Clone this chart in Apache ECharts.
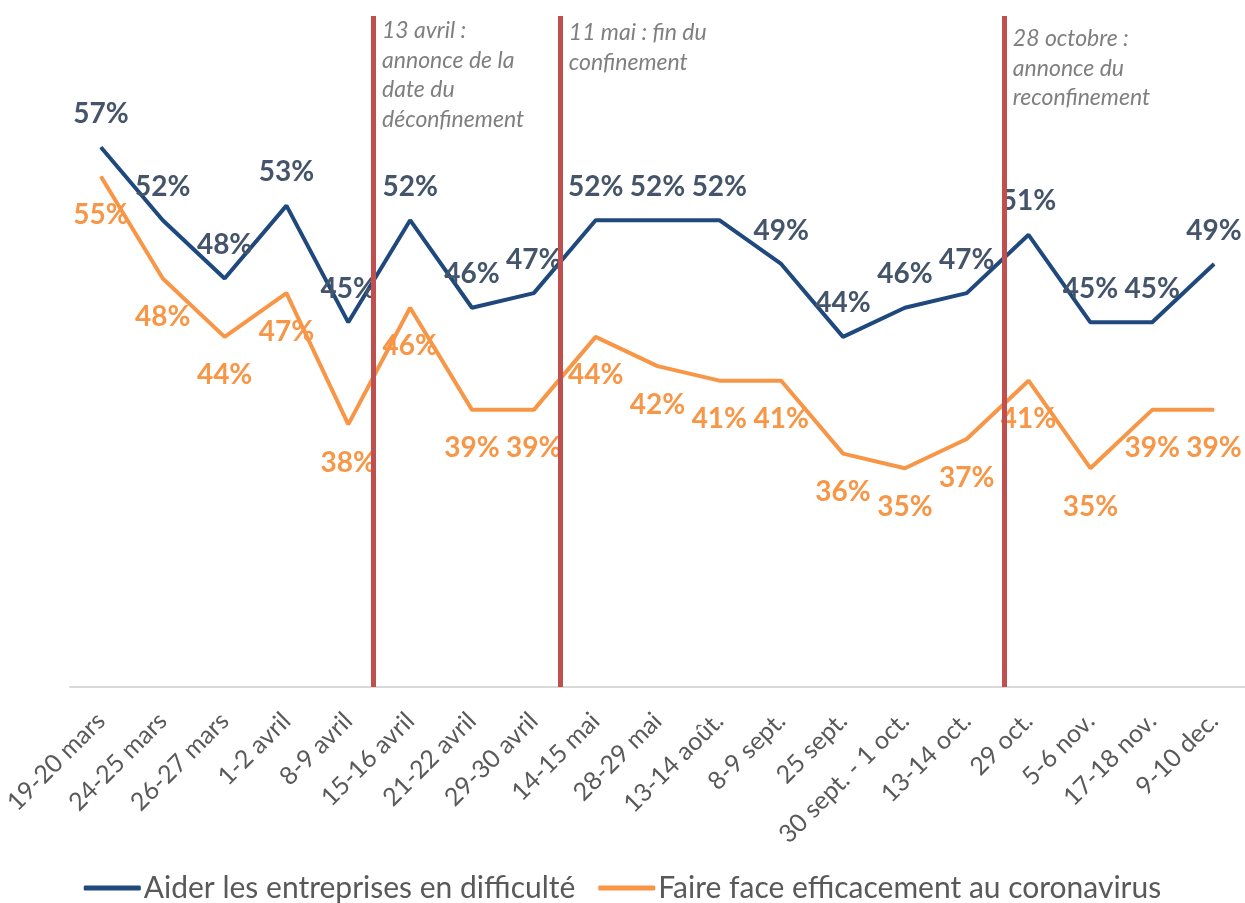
<!DOCTYPE html>
<html>
<head>
<meta charset="utf-8">
<script src="https://cdn.jsdelivr.net/npm/echarts@6/dist/echarts.min.js"></script>
<style>
	html, body { margin: 0; padding: 0; background: #fff; }
	#chart { width: 1245px; height: 903px; }
</style>
</head>
<body>
<div id="chart"></div>
<script>
// catégories (axe x)
var categories = ['19-20 mars', '24-25 mars', '26-27 mars', '1-2 avril', '8-9 avril', '15-16 avril', '21-22 avril', '29-30 avril', '14-15 mai', '28-29 mai', '13-14 août.', '8-9 sept.', '25 sept.', '30 sept. - 1 oct.', '13-14 oct.', '29 oct.', '5-6 nov.', '17-18 nov.', '9-10 dec.'];
// séries en %
var aiderEntreprises = [57, 52, 48, 53, 45, 52, 46, 47, 52, 52, 52, 49, 44, 46, 47, 51, 45, 45, 49];
var faireFace = [55, 48, 44, 47, 38, 46, 39, 39, 44, 42, 41, 41, 36, 35, 37, 41, 35, 39, 39];
// événements (position entre deux catégories)
var eventPos = [4.4, 7.42, 14.6];
var eventText = ['13 avril :\nannonce de la\ndate du\ndéconfinement', '11 mai : fin du\nconfinement', '28 octobre :\nannonce du\nreconfinement'];

var chart = echarts.init(document.getElementById('chart'));
var font = 'Lato, "Open Sans", sans-serif';

chart.setOption({
	animation: false,
	textStyle: { fontFamily: font },
	grid: { left: 70, right: 0, top: 16, bottom: 216 },
	legend: {
		bottom: -5,
		left: 'center',
		icon: 'roundRect',
		itemWidth: 57,
		itemHeight: 5,
		itemGap: 23,
		textStyle: { fontFamily: font, fontSize: 30, color: '#595959', padding: [0, 0, 0, -2] },
		data: ['Aider les entreprises en difficulté', 'Faire face efficacement au coronavirus']
	},
	xAxis: [
		{
			type: 'category',
			data: categories,
			axisLine: { lineStyle: { color: '#d9d9d9', width: 2 } },
			axisTick: { show: false },
			axisLabel: {
				rotate: 45,
				interval: 0,
				margin: 30,
				fontFamily: font,
				fontSize: 25,
				color: '#595959'
			}
		},
		{
			type: 'value',
			show: false,
			min: -0.5,
			max: categories.length - 0.5
		}
	],
	yAxis: {
		type: 'value',
		show: false,
		min: 20,
		max: 66,
		splitLine: { show: false }
	},
	series: [
		{
			name: 'Aider les entreprises en difficulté',
			type: 'line',
			data: aiderEntreprises,
			symbol: 'circle',
			symbolSize: 1,
			z: 3,
			lineStyle: { color: '#1f497d', width: 4 },
			itemStyle: { color: '#1f497d' },
			label: {
				show: true,
				position: 'top',
				distance: 19,
				formatter: '{c}%',
				fontFamily: font,
				fontWeight: 'bold',
				fontSize: 28,
				color: '#44546a'
			}
		},
		{
			name: 'Faire face efficacement au coronavirus',
			type: 'line',
			data: faireFace,
			symbol: 'circle',
			symbolSize: 1,
			z: 3,
			lineStyle: { color: '#f79646', width: 4 },
			itemStyle: { color: '#f79646' },
			label: {
				show: true,
				position: 'bottom',
				distance: 24,
				formatter: '{c}%',
				fontFamily: font,
				fontWeight: 'bold',
				fontSize: 28,
				color: '#f79646'
			}
		},
		{
			name: 'evenements',
			type: 'line',
			xAxisIndex: 1,
			data: [],
			z: 2,
			markLine: {
				silent: true,
				symbol: ['none', 'none'],
				label: { show: false },
				lineStyle: { color: '#c0504d', width: 5, type: 'solid' },
				data: eventPos.map(function (p) { return { xAxis: p }; })
			}
		}
	]
});

// annotations à droite des lignes rouges
chart.setOption({
	graphic: eventPos.map(function (p, i) {
		return {
			type: 'text',
			left: chart.convertToPixel({ xAxisIndex: 1 }, p) + 9,
			top: [16, 18, 24][i],
			style: {
				text: eventText[i],
				fontFamily: font,
				fontStyle: 'italic',
				fontSize: 23,
				lineHeight: 29.5,
				fill: '#7f7f7f'
			}
		};
	})
});
</script>
</body>
</html>
